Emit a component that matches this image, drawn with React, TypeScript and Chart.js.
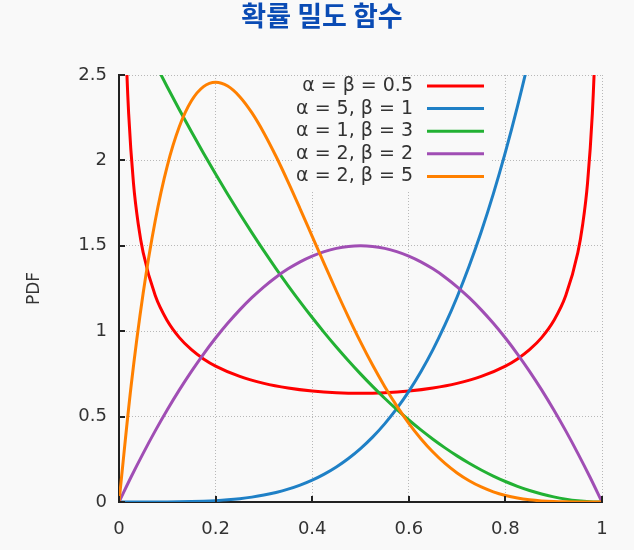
import React, { useEffect, useRef } from 'react';
import { Chart, registerables } from 'chart.js';
Chart.register(...registerables);

const TITLE = '확률 밀도 함수';
const Y_LABEL = 'PDF';
const X_TICKS = [0, 0.2, 0.4, 0.6, 0.8, 1];
const Y_TICKS = [0, 0.5, 1, 1.5, 2, 2.5];
const SERIES_LABELS = ['α = β = 0.5', 'α = 5, β = 1', 'α = 1, β = 3', 'α = 2, β = 2', 'α = 2, β = 5'];
const SERIES_COLORS = ['#ff0000', '#1f80c6', '#22b133', '#a04eb4', '#ff8000'];

const X_COMMON = [0, 0.025, 0.05, 0.075, 0.1, 0.125, 0.15, 0.175, 0.2, 0.225, 0.25, 0.275, 0.3, 0.325, 0.35, 0.375, 0.4, 0.425, 0.45, 0.475, 0.5, 0.525, 0.55, 0.575, 0.6, 0.625, 0.65, 0.675, 0.7, 0.725, 0.75, 0.775, 0.8, 0.825, 0.85, 0.875, 0.9, 0.925, 0.95, 0.975, 1];

const X_RED = [0.01, 0.015, 0.02, 0.03, 0.04, 0.05, 0.075, 0.1, 0.125, 0.15, 0.175, 0.2, 0.25, 0.3, 0.35, 0.4, 0.45, 0.5, 0.55, 0.6, 0.65, 0.7, 0.75, 0.8, 0.825, 0.85, 0.875, 0.9, 0.925, 0.95, 0.96, 0.97, 0.98, 0.985, 0.99];
const Y_RED = [3.199, 2.6187, 2.2736, 1.866, 1.6244, 1.4605, 1.2085, 1.061, 0.9625, 0.8915, 0.8377, 0.7958, 0.7351, 0.6946, 0.6674, 0.6497, 0.6398, 0.6366, 0.6398, 0.6497, 0.6674, 0.6946, 0.7351, 0.7958, 0.8377, 0.8915, 0.9625, 1.061, 1.2085, 1.4605, 1.6244, 1.866, 2.2736, 2.6187, 3.199];

const Y_BLUE = [0, 0.000002, 0.00003, 0.00016, 0.0005, 0.0012, 0.0025, 0.0047, 0.008, 0.0128, 0.0195, 0.0286, 0.0405, 0.0558, 0.075, 0.0989, 0.128, 0.1631, 0.205, 0.2545, 0.3125, 0.3798, 0.4575, 0.5466, 0.648, 0.7629, 0.8925, 1.038, 1.2005, 1.3814, 1.582, 1.8037, 2.048, 2.3162, 2.61, 2.931, 3.28, 3.66, 4.07, 4.52, 5];
const Y_GREEN = [3, 2.8519, 2.7075, 2.5669, 2.43, 2.2969, 2.1675, 2.0419, 1.92, 1.8019, 1.6875, 1.5769, 1.47, 1.3669, 1.2675, 1.1719, 1.08, 0.9919, 0.9075, 0.8269, 0.75, 0.6769, 0.6075, 0.5419, 0.48, 0.4219, 0.3675, 0.3169, 0.27, 0.2269, 0.1875, 0.1519, 0.12, 0.0919, 0.0675, 0.0469, 0.03, 0.0169, 0.0075, 0.0019, 0];
const Y_PURPLE = [0, 0.1463, 0.285, 0.4163, 0.54, 0.6563, 0.765, 0.8663, 0.96, 1.0463, 1.125, 1.1963, 1.26, 1.3163, 1.365, 1.4063, 1.44, 1.4663, 1.485, 1.4963, 1.5, 1.4963, 1.485, 1.4663, 1.44, 1.4063, 1.365, 1.3163, 1.26, 1.1963, 1.125, 1.0463, 0.96, 0.8663, 0.765, 0.6563, 0.54, 0.4163, 0.285, 0.1463, 0];
const Y_ORANGE = [0, 0.6778, 1.2218, 1.6472, 1.9683, 2.1982, 2.349, 2.4321, 2.4576, 2.4351, 2.373, 2.2793, 2.1609, 2.0241, 1.8743, 1.7166, 1.5552, 1.3937, 1.2353, 1.0826, 0.9375, 0.8018, 0.6766, 0.5628, 0.4608, 0.3708, 0.2926, 0.2259, 0.1701, 0.1244, 0.0879, 0.0596, 0.0384, 0.0232, 0.0129, 0.0064, 0.0027, 0.0009, 0.0002, 0, 0];

const SERIES_X = [X_RED, X_COMMON, X_COMMON, X_COMMON, X_COMMON];
const SERIES_Y = [Y_RED, Y_BLUE, Y_GREEN, Y_PURPLE, Y_ORANGE];

const FONT = 'DejaVu Sans';
const BG = '#f9f9f9';

const bgPlugin = {
  id: 'bg',
  beforeDraw(chart: any) {
    const { ctx, width, height } = chart;
    ctx.save();
    ctx.fillStyle = BG;
    ctx.fillRect(0, 0, width, height);
    ctx.font = `bold 27px "Noto Sans CJK KR"`;
    ctx.fillStyle = '#0a4bb4';
    ctx.textAlign = 'center';
    ctx.textBaseline = 'middle';
    ctx.fillText(TITLE, 322, 16);
    ctx.restore();
  },
};

const legendPlugin = {
  id: 'customLegend',
  beforeDatasetsDraw(chart: any) {
    const { ctx } = chart;
    ctx.save();
    ctx.fillStyle = BG;
    ctx.fillRect(294, 78, 198, 112);
    ctx.restore();
  },
  afterDatasetsDraw(chart: any) {
    const { ctx, scales } = chart;
    const xs = scales.x;
    const ys = scales.y;
    ctx.save();
    ctx.strokeStyle = '#222';
    ctx.lineWidth = 2;
    ctx.beginPath();
    Y_TICKS.forEach((v) => {
      const y = Math.round(ys.getPixelForValue(v));
      ctx.moveTo(xs.left, y);
      ctx.lineTo(xs.left + 6, y);
    });
    X_TICKS.forEach((v) => {
      const x = Math.round(xs.getPixelForValue(v));
      ctx.moveTo(x, ys.bottom);
      ctx.lineTo(x, ys.bottom - 6);
    });
    ctx.stroke();
    ctx.font = `19px "${FONT}"`;
    ctx.textAlign = 'right';
    ctx.textBaseline = 'middle';
    SERIES_LABELS.forEach((lab, i) => {
      const y = 86 + i * 22.6;
      ctx.fillStyle = '#333';
      ctx.fillText(lab, 413, y);
      ctx.strokeStyle = SERIES_COLORS[i];
      ctx.lineWidth = 3;
      ctx.beginPath();
      ctx.moveTo(427, y);
      ctx.lineTo(484, y);
      ctx.stroke();
    });
    ctx.restore();
  },
};

export default function App() {
  const ref = useRef<HTMLCanvasElement>(null);
  useEffect(() => {
    if (!ref.current) return;
    const datasets = SERIES_LABELS.map((label, i) => ({
      label,
      data: SERIES_X[i].map((x, j) => ({ x, y: SERIES_Y[i][j] })),
      borderColor: SERIES_COLORS[i],
      backgroundColor: SERIES_COLORS[i],
      borderWidth: 3,
      pointRadius: 0,
      fill: false,
      cubicInterpolationMode: 'monotone' as const,
      order: SERIES_LABELS.length - i,
    }));
    const chart = new Chart(ref.current, {
      type: 'line',
      data: { datasets },
      plugins: [bgPlugin, legendPlugin],
      options: {
        animation: false,
        responsive: false,
        parsing: false as any,
        layout: { padding: { left: 0, right: 32, top: 75, bottom: 0 } },
        plugins: {
          legend: { display: false },
          tooltip: { enabled: false },
          title: { display: false },
        },
        scales: {
          x: {
            type: 'linear',
            min: 0,
            max: 1,
            afterBuildTicks: (s: any) => {
              s.ticks = X_TICKS.map((v) => ({ value: v }));
            },
            afterFit: (s: any) => {
              s.height = 48;
            },
            ticks: {
              color: '#333',
              font: { family: FONT, size: 18 },
              padding: 17,
              maxRotation: 0,
              callback: (v: any) => String(v),
            },
            grid: { color: '#b8b8b8', lineWidth: 1, drawTicks: false },
            border: { display: true, color: '#222', width: 2, dash: [1, 2] },
          },
          y: {
            type: 'linear',
            min: 0,
            max: 2.5,
            afterBuildTicks: (s: any) => {
              s.ticks = Y_TICKS.map((v) => ({ value: v }));
            },
            afterFit: (s: any) => {
              s.width = 119;
            },
            ticks: {
              color: '#333',
              font: { family: FONT, size: 18 },
              padding: 12,
              callback: (v: any) => String(v),
            },
            grid: { color: '#b8b8b8', lineWidth: 1, drawTicks: false },
            border: { display: true, color: '#222', width: 2, dash: [1, 2] },
            title: {
              display: true,
              text: Y_LABEL,
              color: '#333',
              font: { family: FONT, size: 17 },
              padding: { top: 24, bottom: 0 },
            },
          },
        },
      },
    });
    return () => chart.destroy();
  }, []);
  return (
    <div style={{ position: 'fixed', left: 0, top: 0, width: 634, height: 550, background: BG }}>
      <canvas ref={ref} width={634} height={550} style={{ display: 'block' }} />
    </div>
  );
}
